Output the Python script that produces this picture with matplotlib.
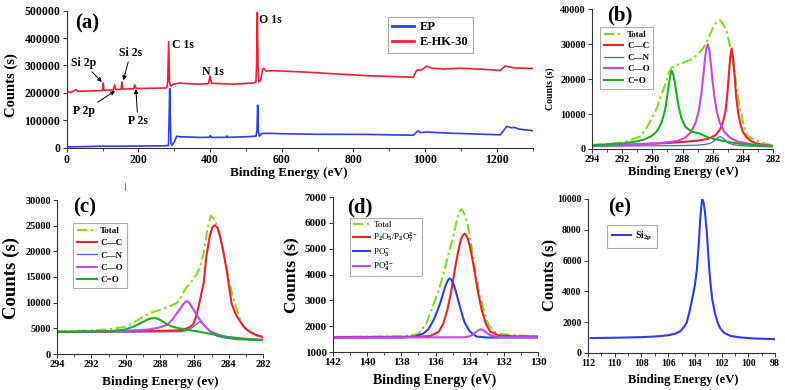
import numpy as np
import matplotlib
matplotlib.use('Agg')
import matplotlib.pyplot as plt
from matplotlib.lines import Line2D

plt.rcParams['font.family'] = ['Liberation Serif', 'DejaVu Serif']
plt.rcParams['font.weight'] = 'bold'
plt.rcParams['mathtext.fontset'] = 'custom'
plt.rcParams['mathtext.rm'] = 'Liberation Serif'
plt.rcParams['mathtext.it'] = 'Liberation Serif:italic'
plt.rcParams['mathtext.bf'] = 'Liberation Serif:bold'

# ---- (a) survey spectra ----
ep_x = [0, 50, 93, 150, 200, 274, 284, 286, 287.5, 289, 291, 294, 300, 307, 316, 372, 398, 401, 404,
        445, 447, 449, 502, 528, 531, 533, 535, 538, 545, 564, 600, 694, 837, 900, 967, 975, 981, 987,
        1005, 1070, 1140, 1210, 1218, 1228, 1240, 1250, 1262, 1300]
ep_y = [3000, 4000, 5500, 5500, 6000, 7000, 8000, 120000, 216000, 120000, 15000, 9000, 20000, 42000,
        40000, 37500, 38000, 44000, 37500, 38000, 43000, 38000, 40000, 42000, 60000, 155000, 60000,
        42000, 52000, 52500, 51000, 49000, 48500, 47000, 45500, 55000, 62000, 55000, 57000, 53000,
        50000, 47000, 60000, 78000, 73000, 74000, 68000, 62000]
hk_x = [0, 14, 26, 30, 93, 100, 102, 104, 130, 134, 137, 152, 154, 157, 187, 190, 194, 279, 282, 284.5,
        287, 290, 298, 316, 335, 372, 396, 400, 404, 465, 521, 528, 530, 532, 534, 536, 541, 547, 550,
        556, 577, 651, 744, 837, 967, 977, 991, 1005, 1019, 1052, 1098, 1163, 1210, 1224, 1250, 1300]
hk_y = [202000, 203000, 212000, 206000, 208000, 210000, 236000, 210000, 211000, 229000, 212000,
        213000, 240000, 214000, 215000, 229000, 216000, 218000, 240000, 387000, 240000, 225000,
        232000, 236000, 234000, 232000, 234000, 262000, 235000, 232000, 236000, 240000, 300000,
        494000, 300000, 241000, 245000, 286000, 290000, 280000, 281000, 277000, 270000, 263000,
        257000, 283000, 284000, 298000, 290000, 287000, 290000, 286000, 282000, 298000, 291000, 289000]

# ---- (b) C1s of EP ----
b_total_x = [294, 293, 292, 291.3, 290.8, 290.4, 290.0, 289.7, 289.4, 289.16, 288.95, 288.72, 288.4, 288.0,
             287.5, 287.0, 286.62, 286.33, 285.96, 285.7, 285.51, 285.3, 285.07, 284.9, 284.74, 284.55,
             284.4, 284.19, 283.95, 283.74, 283.4, 283.1, 282.5, 282]
b_total_y = [1200, 1400, 1900, 2800, 3600, 5900, 9000, 11700, 15500, 18300, 21500, 23300, 24000, 24600,
             25500, 27000, 28900, 31200, 35000, 36500, 36900, 35800, 33600, 30500, 26900, 22000,
             17400, 11700, 7000, 4000, 3000, 2500, 1500, 1000]
b_cc_x = [294, 291, 289, 288, 287, 286.3, 285.8, 285.5, 285.3, 285.15, 285.04, 284.94, 284.84, 284.74,
          284.64, 284.54, 284.44, 284.3, 284.15, 284.0, 283.75, 283.4, 283.0, 282.5, 282]
b_cc_y = [900, 1300, 1700, 2000, 2400, 2900, 4000, 5700, 8000, 10800, 15000, 20500, 26000, 28800,
          26000, 20500, 15000, 10000, 7000, 5000, 3300, 2100, 1500, 1100, 900]
b_cn_x = [294, 290, 288, 287, 286.5, 286.2, 286.0, 285.85, 285.7, 285.6, 285.51, 285.4, 285.25, 285.1,
          284.9, 284.6, 284.2, 283.5, 282]
b_cn_y = [800, 900, 1000, 1100, 1300, 1600, 2000, 2500, 3100, 3400, 3500, 3400, 2900, 2200, 1600, 1200,
          950, 800, 700]
b_co_x = [294, 291, 289.5, 288.33, 287.83, 287.43, 287.13, 286.93, 286.76, 286.63, 286.53, 286.43, 286.33,
          286.23, 286.13, 286.03, 285.9, 285.73, 285.53, 285.23, 284.83, 284.33, 283.5, 282.5, 282]
b_co_y = [1000, 1400, 1700, 2300, 3200, 4900, 7500, 10800, 15500, 20500, 24900, 28500, 30000, 28500,
          24900, 20500, 15500, 10800, 7500, 4900, 3200, 2100, 1400, 1000, 900]
b_cdo_x = [294, 292, 291, 290.5, 290.1, 289.8, 289.6, 289.4, 289.25, 289.12, 289.02, 288.92, 288.82,
           288.72, 288.62, 288.52, 288.42, 288.25, 288.07, 287.8, 287.4, 286.84, 286.3, 285.5, 284.8,
           284.2, 283, 282]
b_cdo_y = [1100, 1600, 2200, 2800, 3600, 4600, 5700, 7500, 9600, 12000, 15000, 18000, 20800, 22400,
           21500, 19300, 16500, 12000, 8800, 6300, 5000, 4400, 3300, 2500, 1900, 1500, 1000, 700]

# ---- (c) C1s of E-HK-30 ----
c_total_x = [294, 292, 291, 290, 289.5, 289, 288.58, 288, 287.5, 287.03, 286.8, 286.5, 286.2, 285.86,
             285.65, 285.46, 285.3, 285.17, 285.03, 284.85, 284.68, 284.5, 284.3, 284.1, 283.9, 283.65,
             283.4, 283.1, 282.8, 282.4, 282]
c_total_y = [4400, 4600, 4800, 5300, 6200, 7200, 8000, 8600, 9200, 9900, 11000, 12800, 14000, 15500,
             17200, 19500, 23000, 25500, 26900, 26300, 25000, 22800, 19600, 16300, 13100, 10000,
             7300, 5300, 4300, 3700, 3300]
c_cc_x = [294, 290, 288, 287, 286.64, 286.3, 286.06, 285.85, 285.67, 285.45, 285.3, 285.1, 284.95, 284.8,
          284.65, 284.5, 284.3, 284.12, 283.95, 283.83, 283.6, 283.46, 283.1, 282.76, 282.4, 282]
c_cc_y = [4300, 4400, 4500, 4600, 4700, 5200, 5800, 7800, 10500, 14000, 19000, 23000, 24700, 25100,
          24600, 23000, 19800, 16400, 12500, 9900, 7800, 7000, 5200, 4300, 3700, 3300]
c_cn_x = [294, 290, 288, 286.8, 286.5, 286.2, 285.9, 285.67, 285.4, 285.1, 284.7, 284.2, 283.5, 282.8, 282]
c_cn_y = [4300, 4300, 4300, 4350, 4500, 5000, 5700, 6300, 5400, 4400, 3500, 3100, 2800, 2700, 2600]
c_co_x = [294, 291, 289.5, 288.58, 288, 287.6, 287.3, 287.03, 286.8, 286.65, 286.5, 286.42, 286.3, 286.15,
          286.0, 285.8, 285.6, 285.4, 285.1, 284.7, 284.3, 283.5, 282.8, 282]
c_co_y = [4300, 4400, 4600, 4800, 5200, 5650, 6600, 7900, 8900, 9700, 10200, 10300, 10000, 9200, 8400,
          7300, 6300, 5500, 4500, 3900, 3400, 3050, 2900, 2800]
c_cdo_x = [294, 291, 290, 289.5, 289.2, 288.9, 288.7, 288.5, 288.3, 288.1, 287.9, 287.6, 287.3, 287.0,
           286.6, 286, 285.5, 284.7, 284, 283.2, 282.5, 282]
c_cdo_y = [4300, 4400, 4800, 5400, 5900, 6400, 6750, 6950, 7000, 6850, 6450, 5800, 5350, 5100, 4800,
           4500, 4200, 3700, 3300, 3000, 2800, 2700]

# ---- (d) P2p ----
d_total_x = [142, 140, 138, 137.5, 137.0, 136.54, 136.2, 135.8, 135.5, 135.27, 135.0, 134.78, 134.63,
             134.49, 134.35, 134.14, 133.97, 133.8, 133.63, 133.47, 133.2, 132.93, 132.6, 132.2, 131.5, 130]
d_total_y = [1580, 1590, 1610, 1640, 1700, 2100, 2700, 3400, 4100, 4700, 5400, 6000, 6400, 6530, 6400,
             6000, 5400, 4700, 4000, 3400, 2700, 2100, 1800, 1700, 1650, 1600]
d_p2o5_x = [142, 137, 136.3, 135.8, 135.55, 135.3, 135.1, 134.9, 134.75, 134.6, 134.5, 134.4, 134.3, 134.2,
            134.1, 134.0, 133.85, 133.7, 133.5, 133.3, 133.05, 132.8, 132.3, 131.5, 130]
d_p2o5_y = [1580, 1590, 1620, 1790, 2090, 2640, 3280, 4050, 4630, 5120, 5370, 5520, 5575, 5520, 5370,
            5120, 4630, 4050, 3280, 2640, 2090, 1790, 1640, 1610, 1600]
d_po3_x = [142, 138, 137.2, 136.7, 136.4, 136.1, 135.8, 135.6, 135.45, 135.3, 135.17, 135.05, 134.9,
           134.75, 134.55, 134.3, 134.0, 133.6, 133.0, 130]
d_po3_y = [1550, 1560, 1600, 1720, 1900, 2250, 2750, 3150, 3500, 3750, 3850, 3780, 3550, 3200, 2700,
           2150, 1800, 1600, 1560, 1560]
d_po4_x = [142, 134.3, 134.0, 133.8, 133.6, 133.45, 133.37, 133.25, 133.1, 132.9, 132.6, 132.2, 130]
d_po4_y = [1560, 1570, 1610, 1680, 1790, 1860, 1880, 1860, 1790, 1690, 1610, 1580, 1580]

# ---- (e) Si2p ----
e_x = [111.8, 110, 108, 107, 106, 105.5, 105.1, 104.8, 104.6, 104.4, 104.2, 104.0, 103.85, 103.7, 103.6,
       103.5, 103.45, 103.35, 103.25, 103.1, 102.95, 102.85, 102.7, 102.5, 102.3, 102.1, 101.8, 101.3,
       100.5, 99.5, 98]
e_y = [970, 990, 1030, 1070, 1150, 1250, 1400, 1700, 2000, 2700, 3500, 4400, 5400, 7200, 8700, 9700,
       10000, 9800, 9200, 7800, 5800, 4700, 3500, 2600, 2000, 1600, 1300, 1100, 1000, 940, 900]

RED = '#f2202e'
BLUE = '#2f3cf0'
LGREEN = '#7ee01e'
GREEN = '#1cb01c'
MAG = '#c847ec'
CNBLUE = '#5060e0'
DASHDOT = (0, (5, 1.6, 1.2, 1.6))
LW = 1.5

W, H = 785, 390
fig = plt.figure(figsize=(W / 100, H / 100), dpi=100)


def add_ax(l, t, r, b):
    return fig.add_axes([l / W, 1 - b / H, (r - l) / W, (b - t) / H])


def style(ax, xlim, ylim, xt, yt, xminor, fs=7.5):
    ax.set_xlim(*xlim)
    ax.set_ylim(*ylim)
    ax.set_xticks(xt)
    ax.set_xticklabels([str(v) for v in xt])
    ax.set_yticks(yt)
    ax.set_yticklabels([str(v) for v in yt])
    ax.set_xticks(xminor, minor=True)
    for s in ['top', 'right']:
        ax.spines[s].set_visible(False)
    for s in ['left', 'bottom']:
        ax.spines[s].set_linewidth(0.8)
        ax.spines[s].set_color('#333333')
    ax.tick_params(direction='out', length=3, width=0.7, labelsize=fs, pad=1.5, color='#333333')
    ax.tick_params(which='minor', direction='out', length=2, width=0.6, color='#333333')
    for lab in ax.get_xticklabels() + ax.get_yticklabels():
        lab.set_fontweight('bold')


def leg(ax, anchor, fs, bold=True, **kw):
    lg = ax.legend(loc='upper left', bbox_to_anchor=anchor, frameon=True, fancybox=False,
                   borderaxespad=0, prop={'size': fs, 'weight': 'bold' if bold else 'normal'}, **kw)
    lg.get_frame().set_edgecolor('#999999')
    lg.get_frame().set_linewidth(0.8)
    return lg


def flabel(x, y, s, fs, rot=0):
    fig.text(x / W, 1 - y / H, s, ha='center', va='center', fontsize=fs, fontweight='bold', rotation=rot)


# (a)
ax = add_ax(66.7, 10.7, 532.5, 147.7)
ax.plot(ep_x, ep_y, color=BLUE, lw=1.2, label='EP')
ax.plot(hk_x, hk_y, color=RED, lw=1.2, label='E-HK-30')
style(ax, (0, 1300), (0, 500000), list(range(0, 1201, 200)), list(range(0, 500001, 100000)),
      list(range(100, 1301, 200)), fs=8.5)
lg = leg(ax, (0.69, 0.955), 9, handlelength=1.7, labelspacing=0.25, borderpad=0.35, handletextpad=0.5)
for h in lg.get_lines():
    h.set_linewidth(2)
ax.text(294, 375000, 'C 1s', fontsize=8.5, fontweight='bold', va='center')
ax.text(378, 276000, 'N 1s', fontsize=8.5, fontweight='bold', va='center')
ax.text(537, 466000, 'O 1s', fontsize=8.5, fontweight='bold', va='center')
arr = dict(arrowstyle='-|>', lw=0.7, color='k', mutation_scale=6, shrinkA=0, shrinkB=0)
ax.annotate('Si 2p', xy=(98, 240000), xytext=(12, 309000), fontsize=8.5, fontweight='bold',
            va='center', arrowprops=arr)
ax.annotate('Si 2s', xy=(158, 246000), xytext=(146, 345000), fontsize=8.5, fontweight='bold',
            va='center', arrowprops=arr)
ax.annotate('P 2p', xy=(135, 207000), xytext=(18, 134000), fontsize=8.5, fontweight='bold',
            va='center', arrowprops=arr)
ax.annotate('P 2s', xy=(193, 214000), xytext=(171, 97000), fontsize=8.5, fontweight='bold',
            va='center', arrowprops=arr)
flabel(87.5, 23, '(a)', 15)
flabel(11, 85, 'Counts (s)', 10.5, 90)
flabel(289, 173, 'Binding Energy (eV)', 9.5)

# (b)
ax = add_ax(592, 9.3, 773, 149)
ax.plot(b_total_x, b_total_y, color=LGREEN, lw=LW, ls=DASHDOT, label='Total')
ax.plot(b_cc_x, b_cc_y, color=RED, lw=LW, label='C\u2014C')
ax.plot(b_cn_x, b_cn_y, color=CNBLUE, lw=0.9, label='C\u2014N')
ax.plot(b_co_x, b_co_y, color=MAG, lw=LW, label='C\u2014O')
ax.plot(b_cdo_x, b_cdo_y, color=GREEN, lw=LW, label='C=O')
style(ax, (294, 282), (0, 40000), list(range(294, 281, -2)), list(range(0, 40001, 10000)),
      list(range(293, 282, -2)), fs=7.3)
leg(ax, (0.044, 0.873), 6.5, handlelength=2.2, labelspacing=0.35, borderpad=0.4, handletextpad=0.4)
flabel(620, 15, '(b)', 15)
flabel(550, 89, 'Counts (s)', 7, 90)
flabel(683, 172, 'Binding Energy (eV)', 9)

# (c)
ax = add_ax(57, 200, 263, 354)
ax.plot(c_total_x, c_total_y, color=LGREEN, lw=LW, ls=DASHDOT, label='Total')
ax.plot(c_cc_x, c_cc_y, color=RED, lw=LW, label='C\u2014C')
ax.plot(c_cn_x, c_cn_y, color=CNBLUE, lw=0.9, label='C\u2014N')
ax.plot(c_co_x, c_co_y, color=MAG, lw=LW, label='C\u2014O')
ax.plot(c_cdo_x, c_cdo_y, color=GREEN, lw=LW, label='C=O')
style(ax, (294, 282), (0, 30000), list(range(294, 281, -2)), list(range(0, 30001, 5000)),
      list(range(293, 282, -2)), fs=7.5)
leg(ax, (0.078, 0.851), 6.5, handlelength=2.2, labelspacing=0.45, borderpad=0.4, handletextpad=0.4)
flabel(85, 207, '(c)', 15)
flabel(11.5, 278, 'Counts (s)', 13.5, 90)
flabel(160, 382, 'Binding Energy (ev)', 9.7)

# (d)
ax = add_ax(333, 197, 538, 352)
ax.plot(d_total_x, d_total_y, color=LGREEN, lw=LW, ls=DASHDOT, label='Total')
ax.plot(d_p2o5_x, d_p2o5_y, color=RED, lw=LW, label='P$_2$O$_5$/P$_2$O$_7^{2-}$')
ax.plot(d_po3_x, d_po3_y, color=BLUE, lw=LW, label='PO$_3^{-}$')
ax.plot(d_po4_x, d_po4_y, color=MAG, lw=LW, label='PO$_4^{3-}$')
style(ax, (142, 130), (1000, 7000), list(range(142, 129, -2)), list(range(1000, 7001, 1000)),
      list(range(141, 130, -2)), fs=8)
leg(ax, (0.083, 0.865), 6.5, bold=False, handlelength=1.9, labelspacing=0.2, borderpad=0.3,
    handletextpad=0.4)
flabel(359.5, 207, '(d)', 15)
flabel(292, 275, 'Counts (s)', 12.5, 90)
flabel(435, 380, 'Binding Energy (eV)', 10)

# (e)
ax = add_ax(588, 199, 775, 353)
ax.plot(e_x, e_y, color=BLUE, lw=LW, label='Si$_{\\mathbf{2p}}$')
style(ax, (112, 98), (0, 10000), list(range(112, 97, -2)), list(range(0, 10001, 2000)),
      list(range(111, 98, -2)), fs=7)
leg(ax, (0.102, 0.831), 7, handlelength=2.0, borderpad=0.5, handletextpad=0.4)
flabel(620, 207, '(e)', 15)
flabel(550, 275, 'Counts (s)', 12, 90)
flabel(683, 380, 'Binding Energy (eV)', 9)

# stray mark below panel (a)
fig.add_artist(Line2D([125 / W, 125 / W], [1 - 183 / H, 1 - 190 / H], color='#555555', lw=0.6))

fig.savefig('out.png', dpi=100)
